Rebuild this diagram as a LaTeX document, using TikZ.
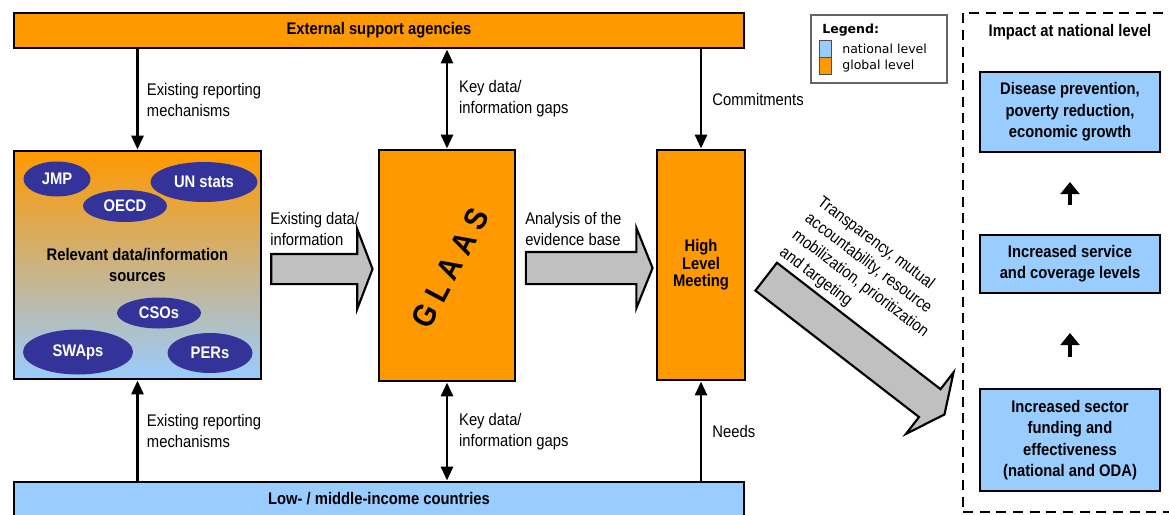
\documentclass[tikz,border=0pt]{standalone}
\usepackage{fontspec}
\setmainfont{Liberation Sans}[FakeStretch=0.88]
\newfontfamily\legendfont{DejaVu Sans}
\usetikzlibrary{positioning,shapes.geometric,shapes.arrows,arrows.meta}

\definecolor{globalorange}{RGB}{255,153,0}
\definecolor{nationalblue}{RGB}{153,204,255}
\definecolor{sourcemid}{RGB}{218,176,182}
\definecolor{sourcenavy}{RGB}{51,51,153}
\definecolor{flowgray}{RGB}{192,192,192}

\newcommand\diagfont{\fontsize{12.6}{15.75}\selectfont}
\newcommand\legendsize{\legendfont\fontsize{9.4}{12}\selectfont}

\tikzset{
  box/.style={draw, line width=2.2pt, inner sep=0pt, align=center, font=\diagfont\bfseries},
  globalbox/.style={box, fill=globalorange},
  nationalbox/.style={box, fill=nationalblue, font=\fontsize{12.6}{16}\selectfont\bfseries},
  source/.style={ellipse, fill=sourcenavy, text=white, inner sep=0pt, font=\diagfont\bfseries},
  flow/.style={-{Triangle[length=10.5pt,width=9pt]}, line width=2.2pt},
  twoway/.style={{Triangle[length=10.5pt,width=9pt]}-{Triangle[length=10.5pt,width=9pt]}, line width=2.2pt},
  bigarrow/.style={single arrow, draw, line width=1.6pt, fill=flowgray, inner sep=0pt, minimum width=0pt},
  rise/.style={-{Triangle[length=9pt,width=14pt]}, line width=3.5pt},
  lbl/.style={align=left, inner sep=0pt},
  swatch/.style={draw=black!70, line width=0.6pt, minimum width=9pt, minimum height=12.75pt, inner sep=0pt},
}

\begin{document}
\begin{tikzpicture}[x=0.75pt, y=-0.75pt, font=\diagfont]
\useasboundingbox (0,0) rectangle (1169,514);

% global and national level bars
\node[globalbox, minimum width=547.5pt, minimum height=26.25pt] (ext) at (379,30.5) {External support agencies};
\node[nationalbox, minimum width=547.5pt, minimum height=25.5pt] (lmic) at (379,499) {Low- / middle-income countries};

% data sources
\node[box, top color=globalorange, middle color=sourcemid, bottom color=nationalblue,
      minimum width=185.25pt, minimum height=171pt] (sources) at (137.5,265) {Relevant data/information\\sources};
\node[source, minimum width=50.25pt, minimum height=26.25pt] (jmp) at (57,179) {JMP};
\node[source, minimum width=80.25pt, minimum height=30pt] (unstats) at (204,182) {UN stats};
\node[source, minimum width=63pt, minimum height=24pt] (oecd) at (125,206) {OECD};
\node[source, minimum width=63pt, minimum height=23.25pt] (csos) at (159,313) {CSOs};
\node[source, minimum width=82.5pt, minimum height=33.75pt] (swaps) at (78,352) {SWAps};
\node[source, minimum width=63.75pt, minimum height=30pt] (pers) at (210,353) {PERs};

% GLAAS and the meeting
\node[globalbox, minimum width=102pt, minimum height=173.25pt] (glaas) at (447,265.5) {};
\node[rotate=62, inner sep=0pt, font=\fontsize{24}{24}\selectfont\bfseries] (glaaslabel) at (450,268) {G L A A S};
\node[globalbox, minimum width=66pt, minimum height=172.5pt, font=\fontsize{12.6}{13}\selectfont\bfseries] (hlm) at (701,265) {High\\Level\\Meeting};

% vertical links
\draw[flow] (ext.south -| sources.north) to node[right=6pt, lbl] {Existing reporting\\mechanisms} (sources.north);
\draw[twoway] (ext.south -| glaas.north) to node[right=8pt, lbl] {Key data/\\information gaps} (glaas.north);
\draw[flow] (ext.south -| hlm.north) to node[right=7.5pt, lbl] {Commitments} (hlm.north);
\draw[flow] (lmic.north -| sources.south) to node[right=6pt, lbl] {Existing reporting\\mechanisms} (sources.south);
\draw[twoway] (lmic.north -| glaas.south) to node[right=8pt, lbl] {Key data/\\information gaps} (glaas.south);
\draw[flow] (lmic.north -| hlm.south) to node[right=7.5pt, lbl] {Needs} (hlm.south);

% block arrows
\node[bigarrow, text height=10.5pt, text depth=10.5pt, minimum height=76pt, single arrow head extend=18.75pt,
      single arrow tip angle=138] (feed) at (319,269) {};
\node[lbl, anchor=west] (feedlabel) at (270,229) {Existing data/\\information};
\node[bigarrow, text height=11.25pt, text depth=11.25pt, minimum height=95pt, single arrow head extend=18pt,
      single arrow tip angle=136] (analysis) at (586,268) {};
\node[lbl, anchor=west] (analysislabel) at (525,229) {Analysis of the\\evidence base};
\node[bigarrow, rotate=-37.7, text height=12.4pt, text depth=12.4pt, minimum height=169pt, single arrow head extend=16pt,
      single arrow tip angle=129] (impactflow) at (852,343) {};
\node[lbl, rotate=-37.1, anchor=north west] (impactflowlabel) at (824,194)
  {Transparency, mutual\\accountability, resource\\mobilization, prioritization\\and targeting};

% legend
\node[draw=black!60, line width=0.8pt, minimum width=102pt, minimum height=51pt] (legend) at (879,49) {};
\node[anchor=west, inner sep=0pt, font=\legendsize\bfseries] (legendtitle) at (822,30) {Legend:};
\node[swatch, fill=nationalblue] (natswatch) at (825,48.5) {};
\node[swatch, fill=globalorange, below=0pt of natswatch] (globswatch) {};
\node[right=8pt of natswatch, inner sep=0pt, font=\legendsize] (natlabel) {national level};
\node[right=8pt of globswatch, inner sep=0pt, font=\legendsize] (globlabel) {global level};

% impact at national level
\node[draw, dashed, dash pattern=on 7.5pt off 5pt, line width=2.2pt,
      minimum width=162.75pt, minimum height=374.25pt] (impact) at (1071.5,262.5) {};
\node[font=\diagfont\bfseries] (impacttitle) at (1070,32) {Impact at national level};
\node[nationalbox, minimum width=135pt, minimum height=60pt] (outcome) at (1070,112) {Disease prevention,\\poverty reduction,\\economic growth};
\node[nationalbox, minimum width=135pt, minimum height=43.5pt] (service) at (1070,264) {Increased service\\and coverage levels};
\node[nationalbox, minimum width=135pt, minimum height=76.5pt] (funding) at (1070,440) {Increased sector\\funding and\\effectiveness\\(national and ODA)};
\coordinate (rise1) at (1070,357);
\coordinate (rise1top) at (1070,333);
\coordinate (rise2) at (1070,205);
\coordinate (rise2top) at (1070,182);
\draw[rise] (rise1) -- (rise1top);
\draw[rise] (rise2) -- (rise2top);
\end{tikzpicture}
\end{document}
